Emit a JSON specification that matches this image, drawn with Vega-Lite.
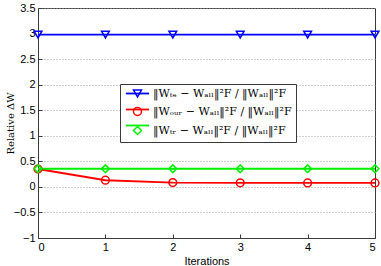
{
  "$schema": "https://vega.github.io/schema/vega-lite/v6.json",
  "width": 337,
  "height": 230,
  "autosize": {"type": "none"},
  "padding": {"left": 38, "top": 8, "right": 6, "bottom": 28},
  "background": "white",
  "config": {
    "view": {"stroke": "#3a3a3a", "strokeWidth": 1},
    "axis": {
      "labelFont": "Liberation Sans",
      "labelFontSize": 11,
      "labelColor": "black",
      "titleFont": "Liberation Sans",
      "titleFontSize": 11,
      "titleFontWeight": "normal",
      "titleColor": "black",
      "domainColor": "#3a3a3a",
      "tickColor": "#3a3a3a",
      "tickSize": -4,
      "labelPadding": 7
    }
  },
  "data": {
    "values": [
      {"it": 0, "series": "te", "v": 2.98},
      {"it": 1, "series": "te", "v": 2.98},
      {"it": 2, "series": "te", "v": 2.98},
      {"it": 3, "series": "te", "v": 2.98},
      {"it": 4, "series": "te", "v": 2.98},
      {"it": 5, "series": "te", "v": 2.98},
      {"it": 0, "series": "our", "v": 0.35},
      {"it": 1, "series": "our", "v": 0.13},
      {"it": 2, "series": "our", "v": 0.085},
      {"it": 3, "series": "our", "v": 0.08},
      {"it": 4, "series": "our", "v": 0.078},
      {"it": 5, "series": "our", "v": 0.078},
      {"it": 0, "series": "tr", "v": 0.355},
      {"it": 1, "series": "tr", "v": 0.355},
      {"it": 2, "series": "tr", "v": 0.355},
      {"it": 3, "series": "tr", "v": 0.355},
      {"it": 4, "series": "tr", "v": 0.355},
      {"it": 5, "series": "tr", "v": 0.355}
    ]
  },
  "encoding": {
    "x": {
      "field": "it", "type": "quantitative",
      "scale": {"domain": [0, 5], "nice": false},
      "axis": {"title": "Iterations", "values": [0, 1, 2, 3, 4, 5], "grid": false, "titlePadding": 3}
    },
    "y": {
      "field": "v", "type": "quantitative",
      "scale": {"domain": [-1, 3.5], "nice": false, "zero": false},
      "axis": {
        "title": "Relative ΔW",
        "titleFont": "DejaVu Serif",
        "titleFontSize": 10,
        "titleX": -28,
        "titleY": 115,
        "titleBaseline": "middle",
        "values": [-1, -0.5, 0, 0.5, 1, 1.5, 2, 2.5, 3, 3.5],
        "format": "~g",
        "grid": true,
        "gridDash": [1, 2],
        "gridColor": "#9a9a9a",
        "labelPadding": 7
      }
    }
  },
  "layer": [
    {
      "mark": {"type": "line", "strokeWidth": 1.8},
      "encoding": {
        "stroke": {
          "field": "series", "type": "nominal",
          "sort": ["te", "our", "tr"],
          "scale": {"range": ["#0000ff", "#ff0000", "#00ee00"]},
          "legend": {
            "orient": "none",
            "legendX": 82,
            "legendY": 76,
            "zindex": 2,
            "title": null,
            "padding": 4,
            "labelFont": "DejaVu Serif",
            "labelFontSize": 11,
            "labelColor": "transparent",
            "labelLimit": 300,
            "symbolType": "M-2.9,0L2.9,0",
            "symbolSize": 64,
            "symbolOffset": 8,
            "symbolStrokeWidth": 1.8,
            "labelOffset": 10,
            "rowPadding": 4,
            "labelExpr": "' '"
          }
        }
      }
    },
    {
      "mark": {"type": "point", "filled": false, "size": 60, "strokeWidth": 1.5, "opacity": 1},
      "encoding": {
        "color": {
          "field": "series", "type": "nominal",
          "scale": {"domain": ["te", "our", "tr"], "range": ["#0000ff", "#ff0000", "#00ee00"]},
          "legend": {
            "orient": "none",
            "legendX": 82,
            "legendY": 76,
            "zindex": 1,
            "title": null,
            "fillColor": "white",
            "strokeColor": "#3a3a3a",
            "padding": 4,
            "labelFont": "DejaVu Serif",
            "labelFontSize": 11,
            "labelColor": "black",
            "labelLimit": 300,
            "symbolSize": 64,
            "symbolOffset": 8,
            "symbolStrokeWidth": 1.5,
            "symbolOpacity": 1,
            "labelOffset": 10,
            "rowPadding": 4,
            "labelExpr": "datum.value === 'te' ? '‖Wₜₑ − Wₐₗₗ‖²F / ‖Wₐₗₗ‖²F' : datum.value === 'our' ? '‖Wₒᵤᵣ − Wₐₗₗ‖²F / ‖Wₐₗₗ‖²F' : '‖Wₜᵣ − Wₐₗₗ‖²F / ‖Wₐₗₗ‖²F'"
          }
        },
        "shape": {
          "field": "series", "type": "nominal",
          "scale": {"domain": ["te", "our", "tr"], "range": ["triangle-down", "circle", "diamond"]},
          "legend": {
            "orient": "none",
            "legendX": 82,
            "legendY": 76,
            "zindex": 1,
            "title": null,
            "fillColor": "white",
            "strokeColor": "#3a3a3a",
            "padding": 4,
            "labelFont": "DejaVu Serif",
            "labelFontSize": 11,
            "labelColor": "black",
            "labelLimit": 300,
            "symbolSize": 64,
            "symbolOffset": 8,
            "symbolStrokeWidth": 1.5,
            "symbolOpacity": 1,
            "labelOffset": 10,
            "rowPadding": 4,
            "labelExpr": "datum.value === 'te' ? '‖Wₜₑ − Wₐₗₗ‖²F / ‖Wₐₗₗ‖²F' : datum.value === 'our' ? '‖Wₒᵤᵣ − Wₐₗₗ‖²F / ‖Wₐₗₗ‖²F' : '‖Wₜᵣ − Wₐₗₗ‖²F / ‖Wₐₗₗ‖²F'"
          }
        }
      }
    }
  ]
}
